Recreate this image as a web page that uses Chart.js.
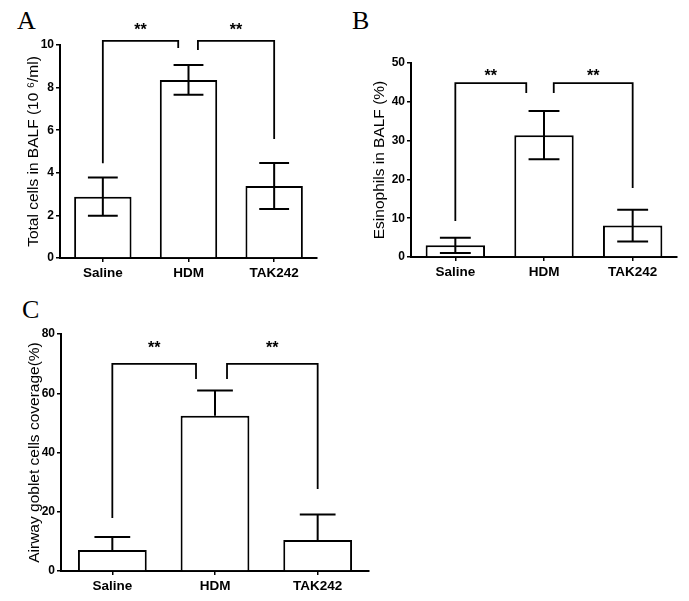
<!DOCTYPE html>
<html>
<head>
<meta charset="utf-8">
<script src="https://cdn.jsdelivr.net/npm/chart.js@4.4.1/dist/chart.umd.min.js"></script>
<style>
  body { margin: 0; background: #fff; width: 689px; height: 601px; position: relative; overflow: hidden; }
  canvas { position: absolute; }
  .letter { position: absolute; font-family: "Liberation Serif", "Times New Roman", serif; font-size: 26px; line-height: 1; color: #000; }
</style>
</head>
<body>
<div class="letter" style="left:17px;top:8px">A</div>
<div class="letter" style="left:352px;top:8px">B</div>
<div class="letter" style="left:22px;top:297px">C</div>
<canvas id="chartA" width="330" height="295" style="left:0;top:0"></canvas>
<canvas id="chartB" width="345" height="295" style="left:340px;top:0"></canvas>
<canvas id="chartC" width="390" height="306" style="left:0;top:295px"></canvas>
<script>
var groups = ['Saline', 'HDM', 'TAK242']

// A - total cells
var cellsMean = [2.88, 8.36, 3.38]
var cellsErr = [0.9, 0.7, 1.08]
var cellsTicks = [0, 2, 4, 6, 8, 10]
var cellsBracketTop = [10.19, 10.19]
var cellsLeftLeg = [4.45, 9.77]
var cellsRightLeg = [9.86, 5.59]
var cellsStarLevel = [10.8, 10.8]

// B - eosinophils
var eosMean = [3.0, 31.4, 8.1]
var eosErr = [1.95, 6.2, 4.1]
var eosTicks = [0, 10, 20, 30, 40, 50]
var eosBracketTop = [44.8, 44.8]
var eosLeftLeg = [9.3, 42.3]
var eosRightLeg = [42.3, 17.8]
var eosStarLevel = [47.3, 47.3]

// C - goblet cells
var gobletMean = [7.1, 52.4, 10.5]
var gobletErr = [4.4, 8.5, 8.6]
var gobletTicks = [0, 20, 40, 60, 80]
var gobletBracketTop = [69.9, 69.9]
var gobletLeftLeg = [17.9, 64.8]
var gobletRightLeg = [64.8, 27.7]
var gobletStarLevel = [76.2, 76.2]

var stars = ['**', '**']

Chart.defaults.color = '#000'
Chart.defaults.font.family = '"Liberation Sans", Arial, sans-serif'

function makePanel(id, cfg) {
    // error bars, brackets, stars and the y title
    var extras = {
        id: 'extras',
        afterDatasetsDraw: function (chart) {
            var ctx = chart.ctx
            var xs = chart.scales.x
            var ys = chart.scales.y
            var meta = chart.getDatasetMeta(0)
            ctx.save()
            ctx.strokeStyle = '#000'
            ctx.lineWidth = 2
            meta.data.forEach(function (bar, i) {
                var half = bar.width * 0.26
                var top = ys.getPixelForValue(cfg.mean[i] + cfg.err[i])
                var bot = ys.getPixelForValue(cfg.upOnly ? cfg.mean[i] : cfg.mean[i] - cfg.err[i])
                ctx.beginPath()
                ctx.moveTo(bar.x, top)
                ctx.lineTo(bar.x, bot)
                ctx.moveTo(bar.x - half, top)
                ctx.lineTo(bar.x + half, top)
                if (!cfg.upOnly) {
                    ctx.moveTo(bar.x - half, bot)
                    ctx.lineTo(bar.x + half, bot)
                }
                ctx.stroke()
            })

            var step = xs.getPixelForValue(1) - xs.getPixelForValue(0)
            var pairs = [[0, 1 + cfg.inset[0]], [1 + cfg.inset[1], 2]]
            ctx.lineWidth = 1.8
            ctx.fillStyle = '#000'
            ctx.font = 'bold 16px "Liberation Sans", Arial, sans-serif'
            ctx.textAlign = 'center'
            ctx.textBaseline = 'middle'
            pairs.forEach(function (p, i) {
                var x1 = xs.getPixelForValue(0) + p[0] * step
                var x2 = xs.getPixelForValue(0) + p[1] * step
                var yt = ys.getPixelForValue(cfg.top[i])
                ctx.beginPath()
                ctx.moveTo(x1, ys.getPixelForValue(cfg.leftLeg[i]))
                ctx.lineTo(x1, yt)
                ctx.lineTo(x2, yt)
                ctx.lineTo(x2, ys.getPixelForValue(cfg.rightLeg[i]))
                ctx.stroke()
                ctx.fillText(stars[i], (x1 + x2) / 2, ys.getPixelForValue(cfg.starLevel[i]) + 3)
            })

            var area = chart.chartArea
            ctx.font = '15.5px "Liberation Sans", Arial, sans-serif'
            ctx.textBaseline = 'alphabetic'
            ctx.translate(cfg.titleX, (area.top + area.bottom) / 2)
            ctx.rotate(-Math.PI / 2)
            ctx.fillText(cfg.title, 0, 0)
            ctx.restore()
        }
    }

    return new Chart(document.getElementById(id), {
        type: 'bar',
        data: {
            labels: groups,
            datasets: [{
                data: cfg.mean,
                backgroundColor: '#fff',
                borderColor: '#000',
                borderWidth: 2,
                borderSkipped: 'bottom',
                barPercentage: 0.67,
                categoryPercentage: 1
            }]
        },
        options: {
            responsive: false,
            animation: false,
            devicePixelRatio: 1,
            layout: {
                padding: cfg.padding
            },
            plugins: {
                legend: { display: false },
                tooltip: { enabled: false }
            },
            scales: {
                x: {
                    grid: { display: true, drawOnChartArea: false, offset: false, tickLength: 4, color: '#000', lineWidth: 1.5 },
                    border: { display: true, color: '#000', width: 2 },
                    ticks: { padding: 3, font: { size: 13.5, weight: 'bold' } },
                    afterFit: function (s) { s.height = 30 }
                },
                y: {
                    min: cfg.ticks[0],
                    max: cfg.ticks[cfg.ticks.length - 1],
                    afterBuildTicks: function (s) {
                        s.ticks = cfg.ticks.map(function (v) { return { value: v } })
                    },
                    grid: { display: true, drawOnChartArea: false, tickLength: 4, color: '#000', lineWidth: 1.5 },
                    border: { display: true, color: '#000', width: 2 },
                    ticks: { padding: 2, font: { size: 12, weight: 'bold' } },
                    afterFit: function (s) { s.width = cfg.yWidth }
                }
            }
        },
        plugins: [extras]
    })
}

makePanel('chartA', {
    mean: cellsMean, err: cellsErr, ticks: cellsTicks,
    top: cellsBracketTop, leftLeg: cellsLeftLeg, rightLeg: cellsRightLeg, starLevel: cellsStarLevel,
    inset: [-0.12, 0.11], upOnly: false,
    title: 'Total cells in BALF (10 \u2076/ml)', titleX: 38,
    yWidth: 60, padding: { top: 45, right: 13, bottom: 7, left: 0 }
})

makePanel('chartB', {
    mean: eosMean, err: eosErr, ticks: eosTicks,
    top: eosBracketTop, leftLeg: eosLeftLeg, rightLeg: eosRightLeg, starLevel: eosStarLevel,
    inset: [-0.2, 0.11], upOnly: false,
    title: 'Esinophils in BALF (%)', titleX: 44,
    yWidth: 71, padding: { top: 63, right: 8, bottom: 8, left: 0 }
})

makePanel('chartC', {
    mean: gobletMean, err: gobletErr, ticks: gobletTicks,
    top: gobletBracketTop, leftLeg: gobletLeftLeg, rightLeg: gobletRightLeg, starLevel: gobletStarLevel,
    inset: [-0.185, 0.117], upOnly: true,
    title: 'Airway goblet cells coverage(%)', titleX: 38.5,
    yWidth: 61, padding: { top: 39, right: 21, bottom: 0, left: 0 }
})
</script>
</body>
</html>
